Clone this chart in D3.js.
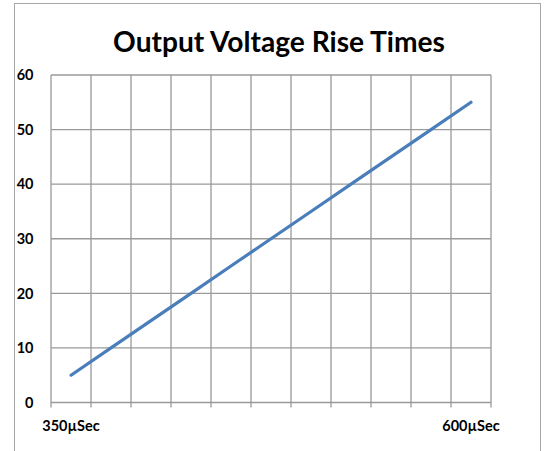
<!DOCTYPE html>
<html>
<head>
<meta charset="utf-8">
<script src="https://cdn.jsdelivr.net/npm/d3@7"></script>
<style>
  body { margin: 0; background: #fff; }
  text { font-family: Lato, "Open Sans", sans-serif; font-weight: bold; fill: #000; }
</style>
</head>
<body>
<svg width="548" height="451"></svg>
<script>
(function() {
    // chart data
    var categories = ["350µSec", "375µSec", "400µSec", "425µSec", "450µSec", "475µSec",
                      "500µSec", "525µSec", "550µSec", "575µSec", "600µSec"];
    var shownLabels = ["350µSec", "600µSec"];
    var values = [5, 10, 15, 20, 25, 30, 35, 40, 45, 50, 55];
    var yTicks = [0, 10, 20, 30, 40, 50, 60];
    var title = "Output Voltage Rise Times";

    var svg = d3.select('svg');
    var left = 51, right = 491, top = 75, bottom = 402.5;

    // outer chart frame
    svg.append("rect")
        .attr("x", 14.5).attr("y", 3.5)
        .attr("width", 526).attr("height", 460)
        .style("fill", "none")
        .style("stroke", "#a6a6a6")
        .style("stroke-width", 1);

    var x = d3.scaleBand().domain(categories).range([left, right]).padding(0);
    var y = d3.scaleLinear().domain([0, 60]).range([bottom, top]);

    var grid = svg.append("g").style("stroke", "#9a9a9a").style("stroke-width", 1.3);

    // horizontal gridlines
    grid.selectAll(".h").data(yTicks).enter().append("line")
        .attr("x1", left).attr("x2", right)
        .attr("y1", function(d) { return y(d); })
        .attr("y2", function(d) { return y(d); });

    // vertical gridlines on category boundaries, with tick marks under the axis
    var edges = categories.map(function(c) { return x(c); }).concat([right]);
    grid.selectAll(".v").data(edges).enter().append("line")
        .attr("x1", function(d) { return d; }).attr("x2", function(d) { return d; })
        .attr("y1", top).attr("y2", bottom + 5);

    // y axis labels
    svg.selectAll(".ylab").data(yTicks).enter().append("text")
        .attr("x", 33.5)
        .attr("y", function(d) { return y(d); })
        .attr("dy", "0.36em")
        .attr("text-anchor", "end")
        .style("font-size", "14.5px")
        .text(function(d) { return d; });

    // x axis labels
    svg.selectAll(".xlab").data(shownLabels).enter().append("text")
        .attr("x", function(d) { return x(d) + x.bandwidth() / 2; })
        .attr("y", 431)
        .attr("text-anchor", "middle")
        .style("font-size", "14.5px")
        .text(function(d) { return d; });

    // the series line
    var line = d3.line()
        .x(function(d, i) { return x(categories[i]) + x.bandwidth() / 2; })
        .y(function(d) { return y(d); });
    svg.append("path")
        .datum(values)
        .attr("d", line)
        .style("fill", "none")
        .style("stroke", "#4a7ebb")
        .style("stroke-width", 3.2)
        .style("stroke-linecap", "round");

    // title
    var t = svg.append("text")
        .attr("x", 279)
        .attr("y", 52)
        .attr("text-anchor", "middle")
        .style("font-size", "26px")
        .text(title);
    var w = t.node().getComputedTextLength();
    t.style("font-size", (26 * 332 / w) + "px");
})();
</script>
</body>
</html>
